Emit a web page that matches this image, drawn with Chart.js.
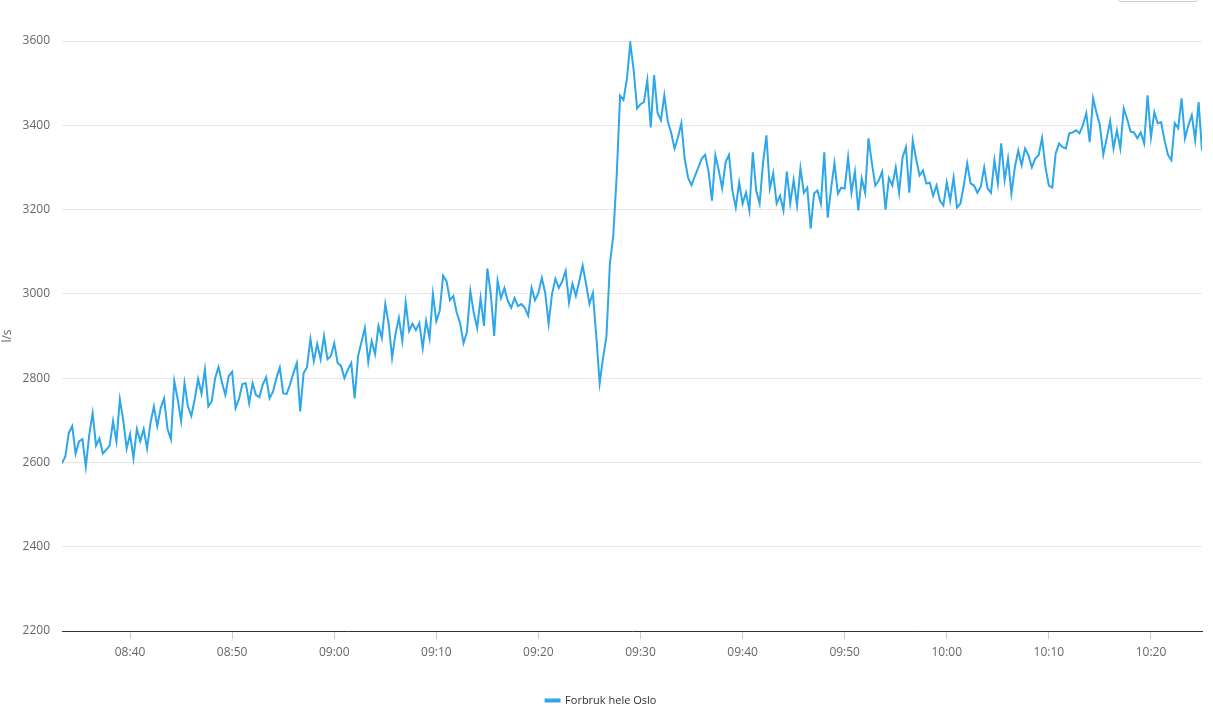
<!DOCTYPE html>
<html>
<head>
<meta charset="utf-8">
<script src="https://cdn.jsdelivr.net/npm/chart.js@4/dist/chart.umd.min.js"></script>
<style>
  html, body { margin: 0; padding: 0; background: #fff; }
  #wrap { position: relative; width: 1213px; height: 728px; overflow: hidden; }
  #menuBtn { position: absolute; left: 1118px; top: -20px; width: 78px; height: 20px; border: 1px solid #ccc; border-radius: 3px; }
</style>
</head>
<body>
<div id="wrap">
  <canvas id="myChart" width="1213" height="728"></canvas>
  <div id="menuBtn"></div>
</div>
<script>
// series starts 08:33:20, one reading every 20 seconds (x in minutes after midnight)
const startMinute = 8 * 60 + 33 + 20 / 60
const stepMinutes = 20 / 60
const seriesName = 'Forbruk hele Oslo'
const yUnit = 'l/s'
const yMin = 2200
const yMax = 3600
const yStep = 200
const xTickStep = 10

// flow readings, l/s
const flow = [
  2598, 2615, 2670, 2686, 2621, 2650, 2655, 2590, 2665, 2717, 2640, 2657, 2621, 2630,
  2640, 2698, 2650, 2750, 2700, 2633, 2667, 2610, 2679, 2650, 2679, 2633, 2693, 2733,
  2686, 2729, 2752, 2680, 2655, 2793, 2750, 2698, 2788, 2733, 2710, 2750, 2798, 2763,
  2821, 2733, 2745, 2800, 2826, 2790, 2760, 2805, 2815, 2729, 2750, 2786, 2788, 2740,
  2788, 2760, 2755, 2785, 2802, 2752, 2768, 2800, 2825, 2764, 2762, 2785, 2812, 2836,
  2721, 2812, 2826, 2893, 2840, 2881, 2845, 2900, 2845, 2852, 2883, 2836, 2829, 2800,
  2820, 2836, 2752, 2852, 2886, 2919, 2838, 2888, 2857, 2924, 2895, 2976, 2929, 2848,
  2905, 2943, 2888, 2979, 2912, 2929, 2914, 2931, 2871, 2936, 2895, 3000, 2935, 2960,
  3043, 3030, 2985, 2995, 2955, 2930, 2883, 2910, 3007, 2955, 2919, 2990, 2924, 3060,
  3000, 2900, 3031, 2990, 3014, 2983, 2967, 2990, 2971, 2976, 2967, 2948, 3014, 2985,
  3002, 3038, 3002, 2929, 3000, 3036, 3014, 3030, 3055, 2979, 3024, 2995, 3030, 3067,
  3024, 2976, 3002, 2900, 2788, 2848, 2900, 3071, 3138, 3280, 3470, 3460, 3510, 3595,
  3530, 3440, 3450, 3455, 3507, 3395, 3519, 3430, 3412, 3471, 3410, 3383, 3345, 3371,
  3405, 3320, 3275, 3258, 3280, 3300, 3321, 3330, 3290, 3221, 3329, 3293, 3250, 3312,
  3330, 3245, 3205, 3264, 3214, 3240, 3198, 3336, 3245, 3214, 3310, 3376, 3250, 3286,
  3214, 3233, 3198, 3290, 3215, 3270, 3210, 3298, 3240, 3252, 3155, 3238, 3245, 3214,
  3336, 3181, 3250, 3310, 3238, 3252, 3250, 3324, 3240, 3290, 3198, 3274, 3240, 3369,
  3310, 3257, 3269, 3290, 3200, 3275, 3257, 3300, 3240, 3324, 3348, 3240, 3364, 3320,
  3281, 3293, 3262, 3264, 3233, 3257, 3221, 3210, 3264, 3221, 3276, 3205, 3214, 3257,
  3310, 3262, 3257, 3240, 3255, 3300, 3250, 3240, 3317, 3262, 3357, 3270, 3321, 3238,
  3300, 3340, 3305, 3345, 3329, 3300, 3321, 3329, 3370, 3300, 3257, 3252, 3333, 3357,
  3348, 3345, 3381, 3383, 3388, 3381, 3400, 3429, 3360, 3464, 3430, 3400, 3330, 3369,
  3410, 3345, 3388, 3345, 3440, 3415, 3385, 3383, 3369, 3383, 3357, 3471, 3371, 3431,
  3405, 3407, 3364, 3330, 3317, 3405, 3393, 3464, 3369, 3400, 3424, 3365, 3455, 3340
]

// minutes after midnight -> hh:mm
const formatTime = (minutes) => {
  const m = Math.round(minutes)
  const hh = String(Math.floor(m / 60)).padStart(2, '0')
  const mm = String(m % 60).padStart(2, '0')
  return hh + ':' + mm
}

const points = flow.map((v, i) => ({ x: startMinute + i * stepMinutes, y: v }))
const lastMinute = startMinute + (flow.length - 1) * stepMinutes

Chart.defaults.font.family = '"Open Sans", "Noto Sans", sans-serif'
Chart.defaults.font.size = 12
Chart.defaults.color = '#666666'

const ctx = document.getElementById('myChart').getContext('2d')
const chart = new Chart(ctx, {
  type: 'line',
  data: {
    datasets: [{
      label: seriesName,
      data: points,
      borderColor: 'rgb(45, 167, 233)',
      backgroundColor: 'rgb(45, 167, 233)',
      borderWidth: 2,
      pointRadius: 0,
      tension: 0,
      fill: false
    }]
  },
  options: {
    responsive: false,
    animation: false,
    parsing: false,
    layout: { padding: { top: 41, right: 11, left: 0, bottom: 12 } },
    plugins: {
      tooltip: { enabled: false },
      legend: {
        position: 'bottom',
        labels: {
          boxWidth: 14,
          boxHeight: 2,
          padding: 8,
          color: '#333333',
          font: { size: 11 }
        }
      }
    },
    scales: {
      x: {
        type: 'linear',
        min: startMinute,
        max: lastMinute,
        afterFit: (scale) => { scale.height = 56 },
        border: { display: true, color: '#333333', width: 1 },
        grid: { drawOnChartArea: false, drawTicks: true, tickLength: 8, color: '#cccccc' },
        ticks: {
          stepSize: xTickStep,
          includeBounds: false,
          maxRotation: 0,
          padding: 6,
          color: '#666666',
          callback: (v) => formatTime(v)
        }
      },
      y: {
        min: yMin,
        max: yMax,
        afterFit: (scale) => { scale.width = 62 },
        border: { display: false },
        grid: { color: '#e6e6e6', drawTicks: false },
        ticks: { stepSize: yStep, padding: 12, color: '#666666', callback: (v) => String(v) },
        title: { display: true, text: yUnit, color: '#666666', font: { size: 12 }, padding: 0 }
      }
    }
  }
})
</script>
</body>
</html>
